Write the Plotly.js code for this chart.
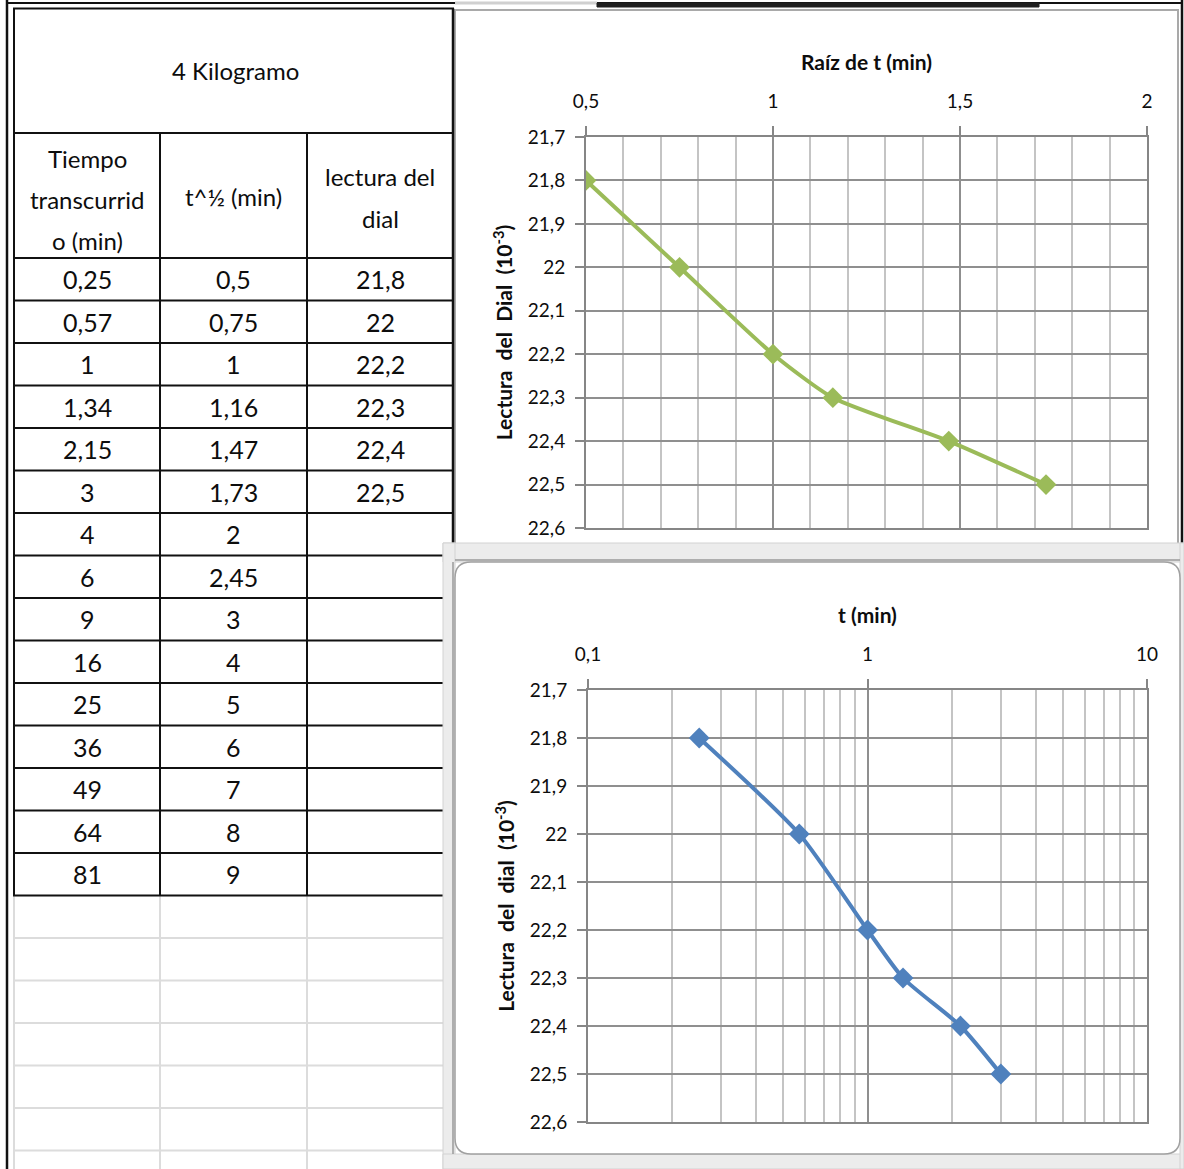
<!DOCTYPE html>
<html>
<head>
<meta charset="utf-8">
<script src="https://cdn.plot.ly/plotly-3.0.1.min.js"></script>
<style>
  html, body { margin: 0; padding: 0; background: #ffffff; }
  #chart { width: 1184px; height: 1169px; }
</style>
</head>
<body>
<div id="chart"></div>
<script>
// Consolidation readings for the 4 kg load step
const tiempoMin = [0.25, 0.57, 1, 1.34, 2.15, 3, 4, 6, 9, 16, 25, 36, 49, 64, 81];
const raizTiempo = [0.5, 0.75, 1, 1.16, 1.47, 1.73, 2, 2.45, 3, 4, 5, 6, 7, 8, 9];
const lecturaDial = [21.8, 22, 22.2, 22.3, 22.4, 22.5];

const tituloTabla = "4 Kilogramo";
const encabezadoTiempo = ["Tiempo", "transcurrid", "o (min)"];
const encabezadoRaiz = "t^½ (min)";
const encabezadoDial = ["lectura del", "dial"];

const tituloRaiz = "<b>Raíz de t (min)</b>";
const tituloLog = "<b>t (min)</b>";
const tituloDial1 = "<b>Lectura  del  Dial  (10<sup>-3</sup>)</b>";
const tituloDial2 = "<b>Lectura  del  dial  (10<sup>-3</sup>)</b>";

// page geometry helpers (pixels -> paper fraction)
const W = 1184, H = 1169;
const X = p => p / W;
const Y = p => 1 - p / H;

const FONT = "Lato, 'Open Sans', sans-serif";
const fmt = v => String(v).replace('.', ',');

const nLect = lecturaDial.length;

const traces = [
  {
    x: raizTiempo.slice(0, nLect), y: lecturaDial,
    xaxis: 'x', yaxis: 'y',
    mode: 'lines+markers', type: 'scatter',
    line: { color: '#9BBB59', width: 4, shape: 'spline', smoothing: 0.6 },
    marker: { symbol: 'diamond', size: 16, color: '#9BBB59' },
    showlegend: false, hoverinfo: 'x+y'
  },
  {
    x: tiempoMin.slice(0, nLect), y: lecturaDial,
    xaxis: 'x2', yaxis: 'y2',
    mode: 'lines+markers', type: 'scatter',
    line: { color: '#4F81BD', width: 4, shape: 'spline', smoothing: 0.6 },
    marker: { symbol: 'diamond', size: 16, color: '#4F81BD' },
    showlegend: false, hoverinfo: 'x+y'
  }
];

// ---- spreadsheet table drawn as shapes + annotations ----
const shapes = [];
const annotations = [];
const line = (x0, y0, x1, y1, color, width) => shapes.push({
  type: 'line', xref: 'paper', yref: 'paper',
  x0: X(x0), y0: Y(y0), x1: X(x1), y1: Y(y1),
  line: { color: color, width: width }, layer: 'below'
});
const rect = (x0, y0, x1, y1, fill, color, width) => shapes.push({
  type: 'rect', xref: 'paper', yref: 'paper',
  x0: X(x0), y0: Y(y0), x1: X(x1), y1: Y(y1),
  fillcolor: fill, line: { color: color, width: width }, layer: 'below'
});
const label = (txt, x, y, size) => annotations.push({
  text: txt, xref: 'paper', yref: 'paper', x: X(x), y: Y(y),
  xanchor: 'center', yanchor: 'middle', showarrow: false,
  font: { family: FONT, size: size, color: '#0d0d0d' }
});

const colX = [14, 160, 307, 453];
const colC = [87, 233.5, 380];
const rowTop = 258, rowH = 42.5;
const nRows = tiempoMin.length;
const tableBottom = rowTop + rowH * nRows;

// light spreadsheet grid below the table
for (let k = 1; k <= 7; k++) {
  const yy = tableBottom + rowH * k;
  if (yy < H) line(14, yy, 453, yy, '#dcdcdc', 2);
}
[14, 160, 307].forEach(xx => line(xx, tableBottom, xx, H, '#dcdcdc', 2));

// table borders
rect(colX[0], 8.5, colX[3], tableBottom, 'rgba(0,0,0,0)', '#111111', 2);
line(colX[0], 133, colX[3], 133, '#111111', 2);
line(colX[1], 133, colX[1], tableBottom, '#111111', 2);
line(colX[2], 133, colX[2], tableBottom, '#111111', 2);
for (let i = 0; i < nRows; i++) {
  const yy = rowTop + rowH * i;
  line(colX[0], yy, colX[3], yy, '#111111', 2);
}

label(tituloTabla, 235, 70, 24);
encabezadoTiempo.forEach((t, i) => label(t, colC[0], 158 + 41.5 * i, 24));
label(encabezadoRaiz, colC[1], 196, 24);
encabezadoDial.forEach((t, i) => label(t, colC[2], 176 + 42 * i, 24));

for (let i = 0; i < nRows; i++) {
  const yc = rowTop + rowH * i + rowH / 2;
  label(fmt(tiempoMin[i]), colC[0], yc, 25);
  label(fmt(raizTiempo[i]), colC[1], yc, 25);
  if (i < nLect) label(fmt(lecturaDial[i]), colC[2], yc, 25);
}

// outer window frame
line(7, 0, 7, H, '#111111', 2.5);
line(1182, 0, 1182, H, '#111111', 2.5);
line(7, 3, 1182, 3, '#111111', 2);
line(455, 3, 597, 3, '#d0d0d0', 3);
rect(597, 3, 1039, 7, '#1e1e1e', '#1e1e1e', 1);

// chart area frames
rect(455, 10, 1178, 548, '#ffffff', '#a9a9a9', 2);
line(453, 8.5, 453, 543, '#111111', 2.5);

// selected chart: light handle frame with rounded inner border
rect(443, 543, 1184, 562, '#ececec', '#d2d2d2', 1);
rect(443, 543, 455, H, '#ececec', '#d2d2d2', 1);
rect(443, 1154, 1184, H, '#ececec', '#d2d2d2', 1);
rect(1180, 543, 1184, H, '#ececec', '#d2d2d2', 1);
shapes.push({
  type: 'path', xref: 'paper', yref: 'paper', layer: 'below',
  path: (() => {
    const x0 = 455, y0 = 562, x1 = 1180, y1 = 1154, r = 16;
    const P = (x, y) => X(x) + ',' + Y(y);
    return 'M' + P(x0 + r, y0) + ' L' + P(x1 - r, y0) + ' Q' + P(x1, y0) + ' ' + P(x1, y0 + r) +
      ' L' + P(x1, y1 - r) + ' Q' + P(x1, y1) + ' ' + P(x1 - r, y1) +
      ' L' + P(x0 + r, y1) + ' Q' + P(x0, y1) + ' ' + P(x0, y1 - r) +
      ' L' + P(x0, y0 + r) + ' Q' + P(x0, y0) + ' ' + P(x0 + r, y0) + ' Z';
  })(),
  fillcolor: '#ffffff', line: { color: '#a0a0a0', width: 1.5 }
});
line(453, 562, 453, 1154, '#9a9a9a', 1.5);
line(455, 560, 1180, 560, '#9a9a9a', 1.5);

const tickFont = { family: FONT, size: 19, color: '#0d0d0d' };
const titleFont = { family: FONT, size: 21, color: '#0d0d0d' };
const yTitleFont = { family: FONT, size: 21, color: '#0d0d0d' };

const axisCommon = {
  showline: true, linecolor: '#868686', linewidth: 2, mirror: true,
  ticks: 'outside', ticklen: 9, tickwidth: 2, tickcolor: '#868686',
  showgrid: true, gridcolor: '#8f8f8f', gridwidth: 2,
  zeroline: false, tickfont: tickFont, automargin: false, fixedrange: true
};

const layout = {
  width: W, height: H,
  margin: { l: 0, r: 0, t: 0, b: 0, pad: 0 },
  paper_bgcolor: '#ffffff', plot_bgcolor: 'rgba(0,0,0,0)',
  separators: ',.',
  showlegend: false,
  font: { family: FONT, color: '#0d0d0d' },
  xaxis: Object.assign({}, axisCommon, {
    domain: [X(586), X(1147)], anchor: 'y', side: 'top',
    range: [0.5, 2], tick0: 0.5, dtick: 0.5, ticklabelstandoff: 10,
    minor: { dtick: 0.1, showgrid: true, gridcolor: '#c4c4c4', gridwidth: 2, ticks: '' },
    title: { text: tituloRaiz, font: titleFont, standoff: 13 }
  }),
  yaxis: Object.assign({}, axisCommon, {
    domain: [Y(528), Y(137)], anchor: 'x',
    range: [22.6, 21.7], tick0: 21.7, dtick: 0.1, ticklabelstandoff: 6,
    title: { text: tituloDial1, font: yTitleFont, standoff: 9 }
  }),
  xaxis2: Object.assign({}, axisCommon, {
    domain: [X(588), X(1147)], anchor: 'y2', side: 'top',
    type: 'log', range: [-1, 1], dtick: 1, ticklabelstandoff: 10,
    minor: { dtick: 'D1', showgrid: true, gridcolor: '#c4c4c4', gridwidth: 2, ticks: '' },
    title: { text: tituloLog, font: titleFont, standoff: 13 }
  }),
  yaxis2: Object.assign({}, axisCommon, {
    domain: [Y(1122), Y(690)], anchor: 'x2',
    range: [22.6, 21.7], tick0: 21.7, dtick: 0.1, ticklabelstandoff: 6,
    title: { text: tituloDial2, font: yTitleFont, standoff: 9 }
  }),
  shapes: shapes,
  annotations: annotations
};

Plotly.newPlot('chart', traces, layout, { displayModeBar: false, staticPlot: true });
</script>
</body>
</html>
